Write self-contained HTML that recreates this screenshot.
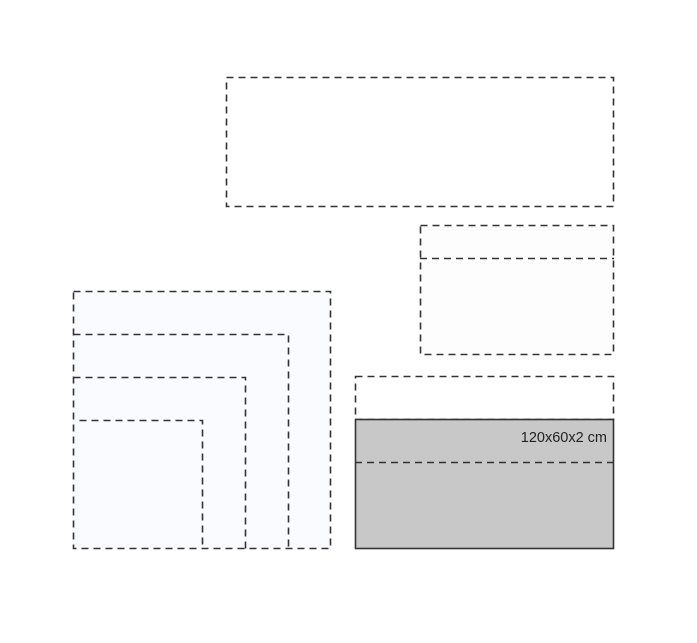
<!DOCTYPE html>
<html><head><style>body{margin:0;background:#fff}svg{display:block}</style></head>
<body>
<svg width="697" height="643" xmlns="http://www.w3.org/2000/svg">
<g fill="none" stroke="#333" stroke-width="1.6" stroke-dasharray="7 5">
<rect x="226.5" y="77.5" width="387" height="129"/>
<rect x="420.5" y="225.5" width="193" height="129" fill="#fdfdfd"/>
<line x1="420" y1="258.5" x2="614" y2="258.5"/>
<rect x="73.5" y="291.5" width="257" height="257" fill="#fafbfe"/>
<path d="M73.5 334.5H288.5V548.5"/>
<path d="M73.5 377.5H245.5V548.5"/>
<path d="M79.5 420.5H202.5V548.5"/>
<rect x="355.5" y="376.5" width="258" height="43"/>
</g>
<rect x="355.5" y="419.5" width="258" height="129" fill="#c8c8c8" stroke="#333" stroke-width="1.6"/>
<line x1="355" y1="462.5" x2="614" y2="462.5" stroke="#333" stroke-width="1.6" stroke-dasharray="7 5"/>
<text x="607" y="442" text-anchor="end" font-family="Liberation Sans, sans-serif" font-size="14.5" fill="#222">120x60x2 cm</text>
</svg>
</body></html>
